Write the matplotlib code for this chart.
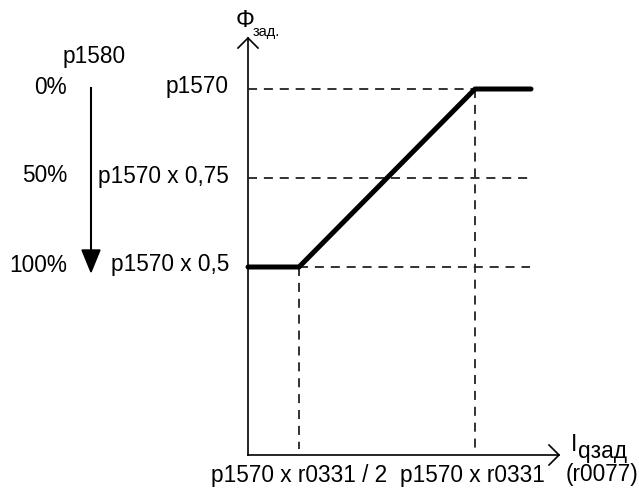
import matplotlib
matplotlib.use("Agg")
import matplotlib.pyplot as plt
from matplotlib.patches import Polygon

plt.rcParams['font.family'] = ['Liberation Sans', 'DejaVu Sans']

# Diagram units (schematic, origin at axes crossing, 1 unit = 1 px)
curve_x = [0, 51, 227, 283]
curve_y = [188, 188, 366, 366]
level_y = [366, 277, 188]            # p1570, p1570 x 0.75, p1570 x 0.5
level_labels = ["p1570", "p1570 x 0,75", "p1570 x 0,5"]
pct_labels = ["0%", "50%", "100%"]
x_marks = [51, 227]
x_labels = ["p1570 x r0331 / 2", "p1570 x r0331"]

W, H = 639, 488
ox, oy = 248, 455  # origin pixel

fig = plt.figure(figsize=(W / 100, H / 100), dpi=100)
ax = fig.add_axes([0, 0, 1, 1])
ax.set_xlim(-ox, W - ox)
ax.set_ylim(-(H - oy), oy)
ax.axis('off')


def px(x, y):
    """pixel (from top-left) -> diagram units"""
    return x - ox, oy - y


lw_axis = 1.2
# y axis with open arrow head
ax.plot([0, 0], [0, 417], color='black', lw=lw_axis)
ax.plot([-10, 0, 10], [407, 417, 407], color='black', lw=lw_axis,
        solid_joinstyle='miter')
# x axis with open arrow head
ax.plot([0, 311], [0, 0], color='black', lw=lw_axis)
ax.plot([301, 311, 301], [10, 0, -10], color='black', lw=lw_axis,
        solid_joinstyle='miter')

dash = (0, (5.0, 3.8))
dcol = '#222222'
dlw = 1.3
# horizontal dashed levels
ax.plot([0, 282], [level_y[0]] * 2, color=dcol, lw=dlw, linestyle=dash)
ax.plot([0, 282], [level_y[1]] * 2, color=dcol, lw=dlw, linestyle=dash)
ax.plot([51, 282], [level_y[2]] * 2, color=dcol, lw=dlw, linestyle=dash)
# vertical dashed
ax.plot([x_marks[0]] * 2, [curve_y[0], 6], color=dcol, lw=dlw, linestyle=dash)
ax.plot([x_marks[1]] * 2, [curve_y[2], 6], color=dcol, lw=dlw, linestyle=dash)

# characteristic curve
ax.plot(curve_x, curve_y, color='black', lw=3.6, solid_capstyle='round',
        solid_joinstyle='round', zorder=5)

fs = 16.3
# level labels
for yv, lab in zip(level_y, level_labels):
    ax.text(229 - ox, yv - 4.5, lab, ha='right', va='baseline', fontsize=fs)
for yv, lab in zip(level_y, pct_labels):
    ax.text(67 - ox, yv - 4.5, lab, ha='right', va='baseline', fontsize=fs)
ax.text(*px(94, 63), "p1580", ha='center', va='baseline', fontsize=fs)

# p1580 arrow
ax.plot([91 - ox, 91 - ox], [oy - 88, oy - 252], color='black', lw=1.5)
ax.add_patch(Polygon([[82 - ox, oy - 250], [100 - ox, oy - 250], [91 - ox, oy - 272]],
                     closed=True, color='black'))

# axis labels
ax.text(*px(236, 27), "Φ", ha='left', va='baseline', fontsize=17)
ax.text(*px(253, 36), "зад.", ha='left', va='baseline', fontsize=10.5)
ax.text(*px(571, 451), "I", ha='left', va='baseline', fontsize=fs)
ax.text(*px(578, 458), "qзад", ha='left', va='baseline', fontsize=fs)
ax.text(*px(602, 481), "(r0077)", ha='center', va='baseline', fontsize=fs)

# x labels (centred under the dashed marks)
ax.text(x_marks[0], -27, x_labels[0], ha='center', va='baseline', fontsize=fs)
ax.text(x_marks[1] - 3, -27, x_labels[1], ha='center', va='baseline', fontsize=fs)

fig.savefig("out.png", dpi=100)
